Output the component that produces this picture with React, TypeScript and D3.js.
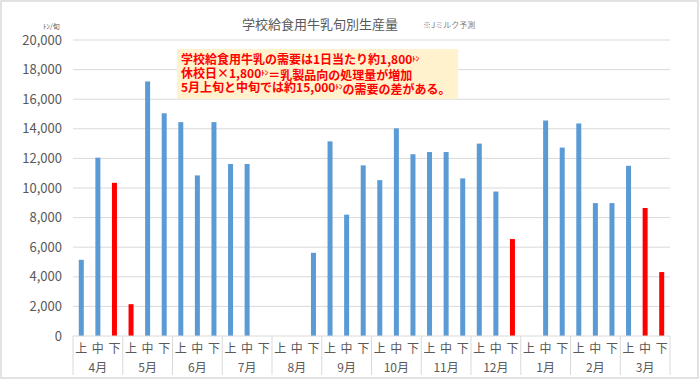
import React from "react";
import * as d3 from "d3";

const months = ["4月", "5月", "6月", "7月", "8月", "9月", "10月", "11月", "12月", "1月", "2月", "3月"];
const periods = ["上", "中", "下"];
const values = [
  5150, 12050, 10350,
  2150, 17200, 15050,
  14450, 10850, 14450,
  11620, 11620, 0,
  0, 0, 5620,
  13150, 8200, 11530,
  10530, 14030, 12280,
  12430, 12430, 10650,
  13000, 9760, 6550,
  0, 14560, 12730,
  14360, 8980, 8980,
  11500, 8650, 4320,
];
const redIdx = [2, 3, 26, 34, 35];
const yTicks = [0, 2000, 4000, 6000, 8000, 10000, 12000, 14000, 16000, 18000, 20000];
const noteLines = [
  ["学校給食用牛乳の需要は1日当たり約1,800", "ﾄﾝ", ""],
  ["休校日×1,800", "ﾄﾝ", "＝乳製品向の処理量が増加"],
  ["5月上旬と中旬では約15,000", "ﾄﾝ", "の需要の差がある。"],
];

const W = 700, H = 380;
const left = 73, right = 670, top = 40, bottom = 336;
const font = "'Noto Sans CJK JP', 'Noto Sans', sans-serif";

export default function App() {
  const idx = d3.range(values.length);
  const x = d3.scaleBand<number>().domain(idx).range([left, right]).paddingInner(0).paddingOuter(0);
  const y = d3.scaleLinear().domain([0, 20000]).range([bottom, top]);
  const bw = 5;
  const fmt = d3.format(",");
  const groupW = x.bandwidth() * 3;
  return (
    <svg width={W} height={H} style={{ position: "absolute", left: 0, top: 0, background: "#fff" }} fontFamily={font}>
      <rect x={1} y={1} width={W - 3} height={H - 3} fill="#fff" stroke="#d9d9d9" strokeWidth={1.5} />
      {yTicks.map((t) => (
        <g key={t}>
          {t > 0 && <line x1={left} x2={right} y1={y(t)} y2={y(t)} stroke="#d9d9d9" strokeWidth={1} />}
          <text x={62} y={y(t)} dy="0.35em" textAnchor="end" fontSize={13} fill="#595959">{fmt(t)}</text>
        </g>
      ))}
      {values.map((v, i) => (
        <rect key={i} x={(x(i) as number) + x.bandwidth() / 2 - bw / 2} y={y(v)} width={bw} height={bottom - y(v)}
          fill={redIdx.includes(i) ? "#FF0000" : "#5B9BD5"} />
      ))}
      <line x1={left} x2={right} y1={bottom} y2={bottom} stroke="#d9d9d9" />
      {d3.range(months.length + 1).map((m) => {
        const gx = left + m * groupW;
        return <line key={m} x1={gx} x2={gx} y1={bottom} y2={375} stroke="#d9d9d9" />;
      })}
      {idx.map((i) => (
        <text key={i} x={(x(i) as number) + x.bandwidth() / 2} y={349} dy="0.35em" textAnchor="middle" fontSize={12} fill="#595959">
          {periods[i % 3]}
        </text>
      ))}
      {months.map((m, k) => (
        <text key={m} x={left + (k + 0.5) * groupW} y={368} dy="0.35em" textAnchor="middle" fontSize={12} fill="#595959">{m}</text>
      ))}
      <text x={320} y={24} dy="0.35em" textAnchor="middle" fontSize={13} fill="#595959">学校給食用牛乳旬別生産量</text>
      <text x={423} y={25} dy="0.35em" fontSize={8} fill="#7f7f7f">※Jミルク予測</text>
      <text x={43} y={27} dy="0.35em" fontSize={7} fill="#595959">ﾄﾝ/旬</text>
      <rect x={177} y={49} width={281} height={50} fill="#FFF2CC" />
      {noteLines.map((ln, k) => (
        <text key={k} x={181} y={60 + k * 14} dy="0.35em" fontSize={12} fontWeight="bold" fill="#FF0000">
          {ln[0]}
          <tspan fontSize={7} dy="-0.45em">{ln[1]}</tspan>
          <tspan dy="0.45em">{ln[2]}</tspan>
        </text>
      ))}
    </svg>
  );
}
